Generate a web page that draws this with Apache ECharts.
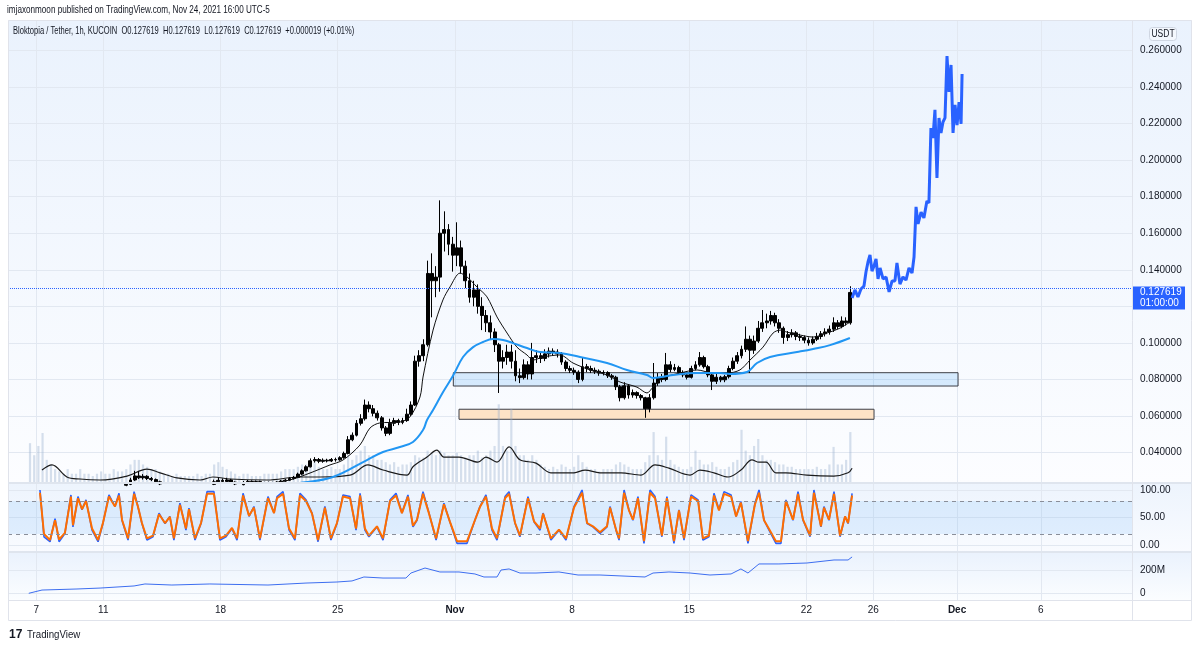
<!DOCTYPE html>
<html>
<head>
<meta charset="utf-8">
<title>Bloktopia / Tether, 1h</title>
<script src="https://cdn.jsdelivr.net/npm/echarts@6.0.0/dist/echarts.min.js"></script>
<style>
html, body { margin: 0; padding: 0; background: #fff; }
#chart { width: 1200px; height: 649px; }
</style>
</head>
<body>
<div id="chart"></div>
<script>
// x unit = days since Oct 7 2021 00:00 (UTC-5)
var dayTicks = [0, 4, 11, 18, 25, 32, 39, 46, 50, 55, 60];
var dayLabels = ['7', '11', '18', '25', 'Nov', '8', '15', '22', '26', 'Dec', '6'];
var priceTicks = [0.04, 0.06, 0.08, 0.10, 0.12, 0.14, 0.16, 0.18, 0.20, 0.22, 0.24, 0.26];
var stochTicks = [0, 50, 100];
var obvTicks = [0, 200];

// 6h bars starting Oct 6 12:00, rows are [open, close, low, high]
var barStart = -0.5, barStep = 0.25;
var ohlc = [
  [0.0200,0.0210,0.0190,0.0225],[0.0210,0.0205,0.0195,0.0220],
  [0.0205,0.0212,0.0200,0.0220],[0.0212,0.0208,0.0202,0.0218],[0.0208,0.0204,0.0198,0.0214],[0.0204,0.0206,0.0199,0.0212],
  [0.0206,0.0202,0.0196,0.0210],[0.0202,0.0205,0.0198,0.0211],[0.0205,0.0209,0.0201,0.0214],[0.0209,0.0207,0.0203,0.0213],
  [0.0207,0.0203,0.0199,0.0211],[0.0203,0.0201,0.0196,0.0207],[0.0201,0.0204,0.0198,0.0209],[0.0204,0.0202,0.0198,0.0208],
  [0.0202,0.0206,0.0199,0.0211],[0.0206,0.0210,0.0203,0.0216],[0.0210,0.0207,0.0202,0.0214],[0.0207,0.0209,0.0204,0.0215],
  [0.0209,0.0213,0.0205,0.0219],[0.0213,0.0210,0.0206,0.0218],[0.0210,0.0215,0.0207,0.0221],[0.0215,0.0218,0.0210,0.0226],
  [0.0218,0.0221,0.0212,0.0228],[0.0221,0.0226,0.0216,0.0234],[0.0226,0.0250,0.0222,0.0262],[0.0250,0.0272,0.0245,0.0300],
  [0.0272,0.0262,0.0255,0.0298],[0.0262,0.0270,0.0252,0.0282],[0.0270,0.0258,0.0250,0.0276],[0.0258,0.0252,0.0244,0.0266],
  [0.0252,0.0240,0.0234,0.0258],[0.0240,0.0228,0.0222,0.0246],[0.0228,0.0222,0.0215,0.0232],[0.0222,0.0218,0.0212,0.0228],
  [0.0218,0.0215,0.0210,0.0224],[0.0215,0.0219,0.0211,0.0225],[0.0219,0.0216,0.0212,0.0223],[0.0216,0.0214,0.0209,0.0221],
  [0.0214,0.0217,0.0210,0.0222],[0.0217,0.0213,0.0209,0.0221],[0.0213,0.0216,0.0210,0.0222],[0.0216,0.0220,0.0213,0.0226],
  [0.0220,0.0222,0.0216,0.0228],[0.0222,0.0226,0.0218,0.0231],[0.0226,0.0240,0.0222,0.0252],[0.0240,0.0248,0.0235,0.0262],
  [0.0248,0.0242,0.0236,0.0258],[0.0242,0.0250,0.0238,0.0262],[0.0250,0.0238,0.0232,0.0256],[0.0238,0.0228,0.0222,0.0242],
  [0.0228,0.0224,0.0219,0.0232],[0.0224,0.0236,0.0221,0.0244],[0.0236,0.0242,0.0230,0.0250],[0.0242,0.0238,0.0232,0.0248],
  [0.0238,0.0241,0.0233,0.0247],[0.0241,0.0236,0.0230,0.0246],[0.0236,0.0233,0.0228,0.0240],[0.0233,0.0236,0.0229,0.0241],
  [0.0236,0.0234,0.0229,0.0240],[0.0234,0.0238,0.0231,0.0243],[0.0238,0.0244,0.0235,0.0250],[0.0244,0.0249,0.0240,0.0255],
  [0.0249,0.0258,0.0245,0.0265],[0.0258,0.0264,0.0252,0.0272],[0.0264,0.0282,0.0260,0.0290],[0.0282,0.0300,0.0276,0.0308],
  [0.0300,0.0322,0.0296,0.0330],[0.0322,0.0355,0.0318,0.0368],[0.0355,0.0362,0.0345,0.0375],[0.0362,0.0352,0.0342,0.0370],
  [0.0352,0.0358,0.0344,0.0368],[0.0358,0.0354,0.0346,0.0366],[0.0354,0.0362,0.0348,0.0370],[0.0362,0.0360,0.0350,0.0372],
  [0.0360,0.0372,0.0355,0.0380],[0.0372,0.0395,0.0366,0.0405],[0.0395,0.0470,0.0390,0.0490],[0.0470,0.0495,0.0462,0.0510],
  [0.0495,0.0560,0.0488,0.0578],[0.0560,0.0585,0.0548,0.0610],[0.0585,0.0660,0.0575,0.0690],[0.0660,0.0640,0.0620,0.0680],
  [0.0640,0.0615,0.0598,0.0660],[0.0615,0.0590,0.0575,0.0630],[0.0590,0.0535,0.0520,0.0600],[0.0535,0.0505,0.0490,0.0545],
  [0.0505,0.0560,0.0495,0.0585],[0.0560,0.0575,0.0545,0.0590],[0.0575,0.0565,0.0550,0.0585],[0.0565,0.0575,0.0555,0.0590],
  [0.0575,0.0610,0.0568,0.0640],[0.0610,0.0660,0.0600,0.0680],[0.0660,0.0900,0.0655,0.0930],[0.0900,0.0930,0.0870,0.0960],
  [0.0930,0.0990,0.0900,0.1020],[0.0990,0.1380,0.0980,0.1450],[0.1380,0.1340,0.1140,0.1490],[0.1340,0.1360,0.1250,0.1420],
  [0.1360,0.1600,0.1280,0.1780],[0.1600,0.1620,0.1500,0.1720],[0.1620,0.1540,0.1480,0.1650],[0.1540,0.1480,0.1390,0.1580],
  [0.1480,0.1520,0.1420,0.1660],[0.1520,0.1420,0.1380,0.1560],[0.1420,0.1340,0.1300,0.1450],[0.1340,0.1250,0.1220,0.1380],
  [0.1250,0.1290,0.1200,0.1340],[0.1290,0.1200,0.1160,0.1320],[0.1200,0.1150,0.1070,0.1250],[0.1150,0.1110,0.1060,0.1180],
  [0.1110,0.1060,0.1020,0.1150],[0.1060,0.0990,0.0950,0.1080],[0.0990,0.0900,0.0726,0.1000],[0.0900,0.0920,0.0860,0.0960],
  [0.0920,0.0950,0.0880,0.0990],[0.0950,0.0900,0.0860,0.0990],[0.0900,0.0820,0.0790,0.0960],[0.0820,0.0810,0.0780,0.0860],
  [0.0810,0.0880,0.0800,0.0910],[0.0880,0.0830,0.0800,0.0900],[0.0830,0.0920,0.0800,0.1000],[0.0920,0.0930,0.0890,0.0960],
  [0.0930,0.0915,0.0890,0.0950],[0.0915,0.0940,0.0900,0.0965],[0.0940,0.0955,0.0920,0.0975],[0.0955,0.0950,0.0930,0.0970],
  [0.0950,0.0940,0.0920,0.0965],[0.0940,0.0895,0.0880,0.0950],[0.0895,0.0860,0.0845,0.0905],[0.0860,0.0850,0.0835,0.0875],
  [0.0850,0.0840,0.0825,0.0865],[0.0840,0.0800,0.0780,0.0850],[0.0800,0.0870,0.0790,0.0920],[0.0870,0.0860,0.0840,0.0885],
  [0.0860,0.0850,0.0835,0.0875],[0.0850,0.0845,0.0830,0.0865],[0.0845,0.0835,0.0820,0.0855],[0.0835,0.0838,0.0822,0.0850],
  [0.0838,0.0820,0.0808,0.0845],[0.0820,0.0812,0.0798,0.0830],[0.0812,0.0760,0.0742,0.0820],[0.0760,0.0700,0.0680,0.0770],
  [0.0700,0.0765,0.0690,0.0785],[0.0765,0.0715,0.0695,0.0775],[0.0715,0.0728,0.0700,0.0745],[0.0728,0.0712,0.0695,0.0735],
  [0.0712,0.0700,0.0685,0.0720],[0.0700,0.0640,0.0590,0.0705],[0.0640,0.0700,0.0620,0.0720],[0.0700,0.0780,0.0690,0.0890],
  [0.0780,0.0810,0.0765,0.0835],[0.0810,0.0800,0.0785,0.0830],[0.0800,0.0880,0.0790,0.0945],[0.0880,0.0855,0.0840,0.0900],
  [0.0855,0.0865,0.0845,0.0885],[0.0865,0.0838,0.0825,0.0875],[0.0838,0.0825,0.0812,0.0850],[0.0825,0.0812,0.0800,0.0835],
  [0.0812,0.0860,0.0805,0.0875],[0.0860,0.0880,0.0850,0.0900],[0.0880,0.0920,0.0870,0.0950],[0.0920,0.0870,0.0860,0.0930],
  [0.0870,0.0825,0.0812,0.0880],[0.0825,0.0790,0.0742,0.0835],[0.0790,0.0812,0.0775,0.0830],[0.0812,0.0798,0.0785,0.0820],
  [0.0798,0.0815,0.0785,0.0825],[0.0815,0.0860,0.0805,0.0875],[0.0860,0.0900,0.0850,0.0920],[0.0900,0.0930,0.0885,0.0950],
  [0.0930,0.0965,0.0915,0.0985],[0.0965,0.1020,0.0950,0.1090],[0.1020,0.0960,0.0835,0.1040],[0.0960,0.1010,0.0940,0.1040],
  [0.1010,0.1080,0.1000,0.1120],[0.1080,0.1110,0.1060,0.1180],[0.1110,0.1120,0.1080,0.1160],[0.1120,0.1150,0.1100,0.1175],
  [0.1150,0.1110,0.1090,0.1165],[0.1110,0.1080,0.1055,0.1130],[0.1080,0.1030,0.0995,0.1090],[0.1030,0.1045,0.1010,0.1065],
  [0.1045,0.1055,0.1030,0.1075],[0.1055,0.1035,0.1015,0.1065],[0.1035,0.1030,0.1010,0.1050],[0.1030,0.1015,0.0998,0.1040],
  [0.1015,0.1000,0.0985,0.1030],[0.1000,0.1020,0.0990,0.1035],[0.1020,0.1035,0.1010,0.1055],[0.1035,0.1050,0.1020,0.1065],
  [0.1050,0.1060,0.1035,0.1080],[0.1060,0.1075,0.1045,0.1095],[0.1075,0.1110,0.1060,0.1140],[0.1110,0.1090,0.1075,0.1125],
  [0.1090,0.1120,0.1080,0.1145],[0.1120,0.1110,0.1095,0.1140],[0.1110,0.127619,0.1100,0.1310]
];
var lastClose = 0.127619;

// volume per 6h bar (M)
var volume = [
  8.6,6,
  8,10.8,5,4, 3,2.5,2,3, 2,2,3,2, 2,1.5,2,2.5, 2,2,3,2.5, 2.5,3,4,5, 5,4,3.5,3, 3,2.5,2,2, 1.5,2,1.5,1.5,
  1.5,1.5,2,1.5, 2,2,4,4.5, 3.5,3,2.5,2, 1.5,2,2,1.5, 1.5,1.5,2,2, 2,2,2.5,3, 3,3,3.5,4, 4,5,4.5,3.5,
  3,3,3.5,3, 3,4,6,5, 6,7,8,6, 6,5,5,4.5, 4,4.5,3.5,4, 4,4.5,6,5.5, 5.5,7,6.5,6, 7,6.5,6,6,
  6.5,6,5.5,6, 6,7,5.5,6, 7,8,17,8, 7,16,8,6, 6,5,6,5, 4,3.5,3,3.5, 3,4,3.5,3, 3.5,6,4.5,3.5,
  3,3,2.5,3, 3,3,4,4.5, 4,3.5,3,3, 3,4.5,6,11, 6,5,10,5, 4,3.5,3,3, 3.5,7,5,4, 4,4.5,3.5,3,
  3,3.5,4.5,5, 11.5,7,6,8, 9.5,6,5,5, 4.5,4,4,3.5, 3.5,3,3,3, 3,3,3.5,3, 3,4,7.8,4,
  4,5,11
];

var volMaDays = [0.34,0.94,1.83,2.61,3.81,5.42,6.61,7.39,8.4,9.79,10.55,11.57,13.78,15.75,16.95,18.74,19.81,20.71,22.14,22.5,23.34,23.93,24.35,25.25,26.38,26.86,27.52,28.24,28.89,29.85,30.74,32.12,32.78,33.67,34.93,36.12,36.96,37.79,39.05,39.64,40.48,41.32,42.09,42.75,43.17,43.59,44.18,44.78,46.03,47.64,48.49,48.73];
var volMaValues = [2.8,3.9,1.3,0.86,0.65,1.5,3.0,2.2,1.1,0.65,1.3,0.86,0.65,1.3,1.3,1.7,3.9,2.8,1.7,3.5,5.6,7.1,5.6,5.6,4.5,5.6,4.5,7.8,5.0,4.3,2.2,2.2,2.8,2.2,2.2,1.7,3.9,3.2,1.7,2.8,2.2,1.3,2.8,5.0,4.5,4.5,2.2,2.2,1.7,1.5,2.2,3.2];

var maFastDays = [13.5,15.15,16.35,17.54,18.32,19.33,19.93,20.52,21.72,22.32,22.92,23.1,23.7,24.29,24.71,25.31,25.73,26.32,26.92,27.52,28.12,28.71,29.31,29.67,30.27,31.28,32.06,33.07,34.09,34.87,35.88,36.48,36.84,37.44,38.45,39.47,40.42,41.26,42.03,42.63,43.41,44.01,44.43,44.84,45.62,46.4,47.23,48.01,48.6];
var maFastValues = [0.0225,0.0250,0.0288,0.0332,0.0359,0.0441,0.0534,0.0562,0.0567,0.0595,0.0704,0.0813,0.1070,0.1235,0.1306,0.1382,0.1361,0.1306,0.1252,0.1142,0.1054,0.0977,0.0934,0.0906,0.0923,0.0934,0.0890,0.0852,0.0824,0.0786,0.0758,0.0726,0.0758,0.0808,0.0835,0.0852,0.0835,0.0835,0.0852,0.0906,0.0977,0.1054,0.1070,0.1059,0.1043,0.1032,0.1054,0.1081,0.1114];

var maSlowDays = [15.0,15.93,17.72,19.75,20.71,21.72,22.5,23.1,23.34,23.7,24.29,24.89,25.49,26.09,26.68,27.28,27.88,28.47,29.31,30.09,31.28,32.48,34.09,35.28,36.48,36.84,38.03,39.47,40.84,41.44,42.45,43.05,43.83,45.44,46.4,47.41,48.6];
var maSlowValues = [0.0225,0.0236,0.0266,0.0359,0.0403,0.0430,0.0458,0.0523,0.0578,0.0633,0.0730,0.0820,0.0923,0.0977,0.1005,0.1021,0.1016,0.0999,0.0972,0.0950,0.0945,0.0923,0.0890,0.0852,0.0824,0.0808,0.0824,0.0835,0.0835,0.0830,0.0841,0.0890,0.0923,0.0950,0.0967,0.0988,0.1027];

// bars-pattern projection drawn after the last bar (alternating highs and lows)
var projDays = [48.73,48.90,49.08,49.26,49.44,49.56,49.68,49.80,49.92,50.04,50.16,50.28,50.40,50.58,50.76,50.94,51.12,51.29,51.41,51.59,51.77,51.95,52.13,52.31,52.43,52.55,52.67,52.85,53.02,53.20,53.32,53.44,53.56,53.68,53.80,53.92,54.04,54.16,54.28,54.40,54.52,54.64,54.76,54.88,55.00,55.12,55.24,55.30];
var projValues = [0.1246,0.1290,0.1251,0.1295,0.1311,0.1388,0.1443,0.1481,0.1393,0.1421,0.1459,0.1350,0.1410,0.1350,0.1361,0.1279,0.1339,0.1339,0.1437,0.1322,0.1361,0.1344,0.1410,0.1382,0.1470,0.1744,0.1651,0.1716,0.1684,0.1776,0.1766,0.2176,0.2121,0.2275,0.1903,0.2231,0.2149,0.2209,0.2231,0.2570,0.2373,0.2521,0.2149,0.2302,0.2192,0.2318,0.2198,0.2471];

// support zones: [fromDay, toDay, top, bottom]
var blueZone = [24.91, 55.06, 0.0837, 0.0764];
var orangeZone = [25.25, 50.04, 0.0637, 0.0582];

var stochDays = [0.22,0.46,0.82,1.12,1.36,1.71,2.07,2.19,2.49,2.73,2.97,3.33,3.69,3.98,4.34,4.7,4.94,5.12,5.48,5.84,6.07,6.31,6.61,6.97,7.33,7.69,7.98,8.22,8.58,8.94,9.12,9.48,9.84,10.2,10.61,10.97,11.33,11.69,11.99,12.35,12.71,13.0,13.36,13.84,14.2,14.38,14.74,15.1,15.45,15.75,16.11,16.47,16.83,17.24,17.6,17.96,18.32,18.74,19.1,19.34,19.63,19.87,20.35,20.71,21.13,21.49,21.84,22.2,22.5,22.74,23.1,23.46,23.88,24.35,24.71,25.13,25.73,26.2,26.5,26.86,27.22,27.52,28.0,28.24,28.6,28.89,29.37,29.73,30.09,30.27,30.74,31.22,31.64,32.12,32.6,32.9,33.25,33.67,34.09,34.27,34.63,34.81,35.11,35.4,35.64,35.94,36.3,36.66,36.96,37.37,37.67,38.09,38.39,38.69,39.11,39.53,39.82,40.18,40.48,40.78,41.08,41.5,41.8,42.09,42.51,42.93,43.17,43.47,43.77,44.18,44.48,44.78,45.2,45.5,45.8,46.22,46.45,46.87,47.05,47.35,47.65,48.01,48.31,48.49,48.73];
var stochK = [100,15,6,48,6,21,91,33,88,64,82,27,6,39,91,70,94,45,9,97,70,39,9,15,58,39,52,9,76,27,67,9,39,97,97,9,15,30,9,94,52,70,9,88,58,88,97,27,9,94,82,58,6,70,9,39,91,88,27,94,27,15,33,9,82,94,58,91,33,45,97,58,9,76,42,3,3,45,70,91,27,9,88,97,39,15,88,42,27,58,9,27,9,70,100,39,33,21,33,70,27,9,100,64,45,88,3,100,88,15,88,3,64,9,91,82,9,15,94,64,97,91,52,79,3,76,100,45,27,3,3,82,45,97,45,15,100,33,70,45,97,15,52,39,94];
var stochD = [95,20,9,45,10,22,88,36,85,65,80,30,9,40,88,70,90,46,12,93,70,40,12,17,56,40,51,12,73,30,65,12,40,93,93,12,17,31,12,90,53,68,12,85,58,85,93,30,12,90,80,57,9,68,12,40,88,85,30,90,30,17,34,12,80,90,58,88,35,46,93,57,12,74,42,7,7,45,69,88,30,12,85,93,40,17,85,43,30,57,12,28,12,68,95,40,34,23,34,68,28,12,95,63,46,85,7,95,85,17,85,7,63,12,88,80,12,17,90,63,93,88,52,77,7,74,95,45,29,7,7,80,46,93,46,17,95,34,68,46,93,17,52,40,90];

// on-balance volume (M)
var obvDays = [-0.45,0.34,2.43,3.81,5.84,6.49,8.1,10.37,13.84,16.11,17.96,18.86,19.57,20.71,22.08,22.38,23.22,24.11,25.25,26.2,26.74,27.52,27.76,28.24,28.89,29.85,31.22,32.36,33.67,36.36,36.84,37.79,39.05,40.24,41.5,42.09,42.51,43.17,44.36,46.03,47.65,48.49,48.73];
var obvValues = [0,28,37,45,63,80,71,80,71,88,97,106,140,131,131,174,217,183,183,166,140,140,200,209,174,174,183,157,157,140,174,183,174,157,166,209,174,252,252,260,286,286,312];

var FONT = "'Liberation Sans', Arial, sans-serif";
var TXT = '#131722';
var GRIDLINE = '#e2e8f1';
var AXIS_FS = 10;

function pairs(xs, ys) {
  return xs.map(function (x, i) { return [x, ys[i]]; });
}
function paneFill(top, bottom) {
  return new echarts.graphic.LinearGradient(0, 0, 0, 1, [
    { offset: 0, color: top }, { offset: 1, color: bottom }
  ]);
}

var candleData = ohlc.map(function (r, i) {
  return [barStart + barStep * (i + 0.5), r[0], r[1], r[2], r[3]];
});
var volData = volume.map(function (v, i) {
  return [barStart + barStep * (i + 0.5), v];
});

var chart = echarts.init(document.getElementById('chart'), null, { renderer: 'canvas' });

var xAxes = [0, 1, 2].map(function (g) {
  return {
    type: 'value', gridIndex: g, min: -1.69, max: 65.45,
    axisLine: { show: false },
    axisTick: { show: false, customValues: dayTicks },
    axisLabel: g === 2 ? {
      show: true, customValues: dayTicks, margin: 5, color: TXT, fontSize: AXIS_FS, fontFamily: FONT,
      formatter: function (v) {
        var lab = dayLabels[dayTicks.indexOf(v)] || '';
        return (lab === 'Nov' || lab === 'Dec') ? '{b|' + lab + '}' : lab;
      },
      rich: { b: { fontWeight: 'bold', fontSize: AXIS_FS, fontFamily: FONT, color: TXT } }
    } : { show: false },
    splitLine: { show: true, lineStyle: { color: GRIDLINE, width: 1 } }
  };
});

function yLabel(ticks, fmt) {
  return { customValues: ticks, margin: 8, color: TXT, fontSize: AXIS_FS, fontFamily: FONT, formatter: fmt };
}

var option = {
  animation: false,
  backgroundColor: '#ffffff',
  textStyle: { fontFamily: FONT },
  grid: [
    { left: 8, right: 68, top: 20, height: 463 },
    { left: 8, right: 68, top: 483, height: 69 },
    { left: 8, right: 68, top: 552, height: 48 }
  ],
  xAxis: xAxes,
  yAxis: [
    {
      type: 'value', gridIndex: 0, position: 'right', min: 0.023338, max: 0.276689,
      axisLine: { show: false }, axisTick: { show: false, customValues: priceTicks },
      axisLabel: yLabel(priceTicks, function (v) { return v.toFixed(6); }),
      splitLine: { lineStyle: { color: GRIDLINE } }
    },
    { type: 'value', gridIndex: 0, show: false, min: 0, max: 100 },
    {
      type: 'value', gridIndex: 1, position: 'right', min: -12.7, max: 112.7,
      axisLine: { show: false }, axisTick: { show: false, customValues: stochTicks },
      axisLabel: yLabel(stochTicks, function (v) { return v.toFixed(2); }),
      splitLine: { lineStyle: { color: GRIDLINE } }
    },
    {
      type: 'value', gridIndex: 2, position: 'right', min: -57.5, max: 354.5,
      axisLine: { show: false }, axisTick: { show: false, customValues: obvTicks },
      axisLabel: yLabel(obvTicks, function (v) { return v === 0 ? '0' : v + 'M'; }),
      splitLine: { lineStyle: { color: GRIDLINE } }
    }
  ],
  series: [
    {
      name: 'Volume', type: 'bar', xAxisIndex: 0, yAxisIndex: 1, data: volData,
      barWidth: 2.2, silent: true, z: 1,
      itemStyle: { color: 'rgba(150,174,204,0.38)' }
    },
    {
      name: 'Vol MA', type: 'line', xAxisIndex: 0, yAxisIndex: 1, data: pairs(volMaDays, volMaValues),
      symbol: 'none', smooth: 0.35, silent: true, z: 2,
      lineStyle: { color: '#1c1c1c', width: 1.2 }
    },
    {
      name: 'BLOKUSDT', type: 'candlestick', xAxisIndex: 0, yAxisIndex: 0, data: candleData,
      barWidth: 3.4, z: 3,
      itemStyle: { color: '#000', color0: '#000', borderColor: '#000', borderColor0: '#000', borderWidth: 1 },
      markArea: {
        silent: true,
        data: [
          [{ coord: [blueZone[0], blueZone[2]],
             itemStyle: { color: 'rgba(33,150,243,0.16)', borderColor: '#3d3f47', borderWidth: 1 } },
           { coord: [blueZone[1], blueZone[3]] }],
          [{ coord: [orangeZone[0], orangeZone[2]],
             itemStyle: { color: '#fde3c6', borderColor: '#3d3f47', borderWidth: 1 } },
           { coord: [orangeZone[1], orangeZone[3]] }]
        ]
      },
      markLine: {
        silent: true, symbol: ['none', 'none'], label: { show: false },
        lineStyle: { color: '#2962ff', type: 'dotted', width: 1 },
        data: [{ yAxis: lastClose }]
      }
    },
    {
      name: 'MA fast', type: 'line', xAxisIndex: 0, yAxisIndex: 0, data: pairs(maFastDays, maFastValues),
      symbol: 'none', smooth: 0.3, silent: true, z: 4,
      lineStyle: { color: '#111', width: 1 }
    },
    {
      name: 'MA slow', type: 'line', xAxisIndex: 0, yAxisIndex: 0, data: pairs(maSlowDays, maSlowValues),
      symbol: 'none', smooth: 0.4, silent: true, z: 4,
      lineStyle: { color: '#2196f3', width: 2 }
    },
    {
      name: 'Projection', type: 'line', xAxisIndex: 0, yAxisIndex: 0, data: pairs(projDays, projValues),
      symbol: 'none', silent: true, z: 5,
      lineStyle: { color: '#2962ff', width: 3, join: 'bevel' }
    },
    {
      name: '%K', type: 'line', xAxisIndex: 1, yAxisIndex: 2, data: pairs(stochDays, stochK),
      symbol: 'none', silent: true, z: 3,
      lineStyle: { color: '#2962ff', width: 1.6 },
      markArea: {
        silent: true, itemStyle: { color: 'rgba(33,150,243,0.11)' },
        data: [[{ yAxis: 80 }, { yAxis: 20 }]]
      },
      markLine: {
        silent: true, symbol: ['none', 'none'], label: { show: false },
        lineStyle: { color: '#8a8e99', type: [4, 4], width: 1 },
        data: [{ yAxis: 80 }, { yAxis: 20 }]
      }
    },
    {
      name: '%D', type: 'line', xAxisIndex: 1, yAxisIndex: 2, data: pairs(stochDays, stochD),
      symbol: 'none', silent: true, z: 4,
      lineStyle: { color: '#ff6d00', width: 2 }
    },
    {
      name: 'OBV', type: 'line', xAxisIndex: 2, yAxisIndex: 3, data: pairs(obvDays, obvValues),
      symbol: 'none', silent: true, z: 3,
      lineStyle: { color: '#3d6ef0', width: 1 }
    }
  ],
  graphic: [
    { id: 'bgMain', type: 'rect', z: -10, silent: true, shape: { x: 8, y: 20, width: 1184, height: 463 },
      style: { fill: paneFill('#eaf2fd', '#fcfdff') } },
    { id: 'bgStoch', type: 'rect', z: -10, silent: true, shape: { x: 8, y: 483, width: 1184, height: 69 },
      style: { fill: paneFill('#edf4fd', '#f9fbff') } },
    { id: 'bgObv', type: 'rect', z: -10, silent: true, shape: { x: 8, y: 552, width: 1184, height: 48 },
      style: { fill: paneFill('#eaf2fd', '#fbfdff') } },
    { id: 'frame', type: 'rect', z: 50, silent: true, shape: { x: 8.5, y: 20.5, width: 1183, height: 600 },
      style: { fill: 'none', stroke: '#e0e3eb', lineWidth: 1 } },
    { id: 'sep1', type: 'rect', z: 50, silent: true, shape: { x: 8, y: 482, width: 1184, height: 2 }, style: { fill: '#dfe5ee' } },
    { id: 'sep2', type: 'rect', z: 50, silent: true, shape: { x: 8, y: 551, width: 1184, height: 2 }, style: { fill: '#dfe5ee' } },
    { id: 'sep3', type: 'line', z: 50, silent: true, shape: { x1: 8, y1: 600.5, x2: 1192, y2: 600.5 }, style: { stroke: '#e0e3eb', lineWidth: 1 } },
    { id: 'sepV', type: 'line', z: 50, silent: true, shape: { x1: 1132.5, y1: 20, x2: 1132.5, y2: 621 }, style: { stroke: '#e0e3eb', lineWidth: 1 } },
    { id: 'pub', type: 'text', z: 100, x: 7, y: 10, scaleX: 0.74,
      style: { text: 'imjaxonmoon published on TradingView.com, Nov 24, 2021 16:00 UTC-5', fill: TXT,
        font: '11px ' + FONT, verticalAlign: 'middle' } },
    { id: 'legend', type: 'text', z: 100, x: 13, y: 31, scaleX: 0.72,
      style: { text: 'Bloktopia / Tether, 1h, KUCOIN  O0.127619  H0.127619  L0.127619  C0.127619  +0.000019 (+0.01%)',
        fill: TXT, font: '10.5px ' + FONT, verticalAlign: 'middle' } },
    { id: 'usdtBox', type: 'rect', z: 100, shape: { x: 1149.5, y: 27.5, width: 27, height: 13, r: 3 },
      style: { fill: '#f4f8fe', stroke: '#cfd6e2', lineWidth: 1 } },
    { id: 'usdt', type: 'text', z: 101, x: 1163, y: 34, scaleX: 0.85,
      style: { text: 'USDT', fill: TXT, font: '10px ' + FONT, align: 'center', verticalAlign: 'middle' } },
    { id: 'logo', type: 'text', z: 100, x: 9, y: 635,
      style: { text: '17', fill: '#131722', font: 'bold 12px ' + FONT, verticalAlign: 'middle' } },
    { id: 'brand', type: 'text', z: 100, x: 27, y: 635, scaleX: 0.88,
      style: { text: 'TradingView', fill: TXT, font: '11px ' + FONT, verticalAlign: 'middle' } }
  ]
};

chart.setOption(option);

// last price tag on the price scale
var tagY = chart.convertToPixel({ xAxisIndex: 0, yAxisIndex: 0 }, [0, lastClose])[1];
chart.setOption({
  graphic: [
    { id: 'tagBox', type: 'rect', z: 110, shape: { x: 1133, y: tagY - 6, width: 52, height: 23 },
      style: { fill: '#2962ff' } },
    { id: 'tagPrice', type: 'text', z: 111, x: 1140, y: tagY,
      style: { text: lastClose.toFixed(6), fill: '#fff', font: AXIS_FS + 'px ' + FONT, verticalAlign: 'middle' } },
    { id: 'tagTime', type: 'text', z: 111, x: 1140, y: tagY + 11,
      style: { text: '01:00:00', fill: '#fff', font: AXIS_FS + 'px ' + FONT, verticalAlign: 'middle' } }
  ]
});
</script>
</body>
</html>
